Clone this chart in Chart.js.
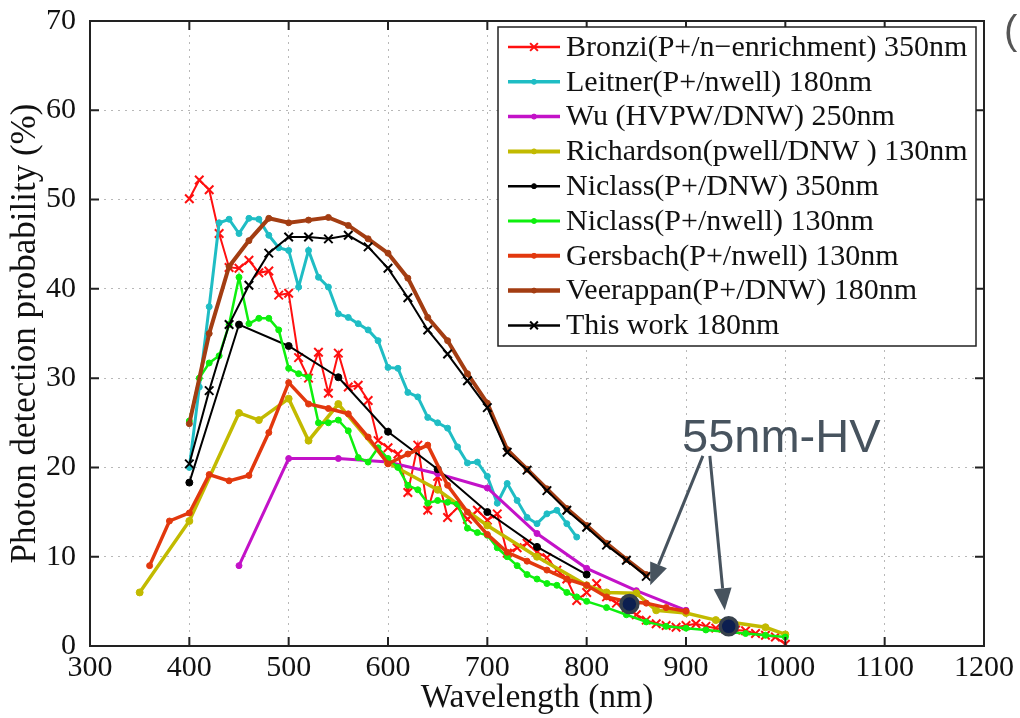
<!DOCTYPE html>
<html>
<head>
<meta charset="utf-8">
<script src="https://cdn.jsdelivr.net/npm/chart.js@4.4.1/dist/chart.umd.min.js"></script>
<style>
  body { margin: 0; background: #fff; }
  #wrap { width: 1020px; height: 718px; }
</style>
</head>
<body>
<div id="wrap"><canvas id="pdpChart" width="1020" height="718"></canvas></div>
<script>
// wavelength (nm) / photon detection probability (%)
const bronziX = [400,410,420,430,440,450,460,470,480,490,500,510,520,530,540,550,560,570,580,590,600,610,620,630,640,650,660,670,680,690,700,710,720,730,740,750,760,770,780,790,800,810,820,830,840,850,860,870,880,890,900,910,920,930,940,950,960,970,980,990,1000];
const bronziY = [50.1,52.2,51.1,46.2,42.4,42.3,43.2,41.8,42.0,39.3,39.5,32.3,30.0,32.9,28.3,32.8,29.0,29.2,27.5,23.0,22.2,21.5,17.2,22.5,15.2,19.0,14.4,15.5,14.2,15.2,14.1,14.8,10.4,11.0,11.5,10.5,9.9,8.5,7.5,5.1,6.0,7.0,5.5,4.8,4.3,3.5,2.9,2.5,2.3,2.1,2.3,2.5,2.2,2.0,1.9,1.8,1.7,1.4,1.2,1.0,0.2];

const leitnerX = [400,410,420,430,440,450,460,470,480,490,500,510,520,530,540,550,560,570,580,590,600,610,620,630,640,650,660,670,680,690,700,710,720,730,740,750,760,770,780,790];
const leitnerY = [20.0,29.0,38.0,47.4,47.8,46.2,47.9,47.8,46.0,44.6,44.3,40.2,44.3,41.3,40.2,37.2,36.8,36.1,35.4,34.2,31.2,31.1,28.4,27.9,25.6,25.0,24.4,22.3,20.5,20.6,19.0,16.0,18.2,16.3,14.4,13.7,14.8,15.2,13.7,12.2];

const wuX = [450,500,550,600,650,700,750,800,850,900];
const wuY = [9.0,21.0,21.0,20.6,19.3,17.7,12.6,8.7,6.2,4.0];

const richardsonX = [350,400,450,470,500,520,550,600,650,700,750,800,820,850,870,900,930,980,1000];
const richardsonY = [6.0,14.0,26.1,25.3,27.7,23.0,27.1,20.5,17.5,13.5,10.0,6.8,6.0,5.9,4.0,3.7,2.9,2.1,1.3];

const niclassDnwX = [400,450,500,550,600,650,700,750,800];
const niclassDnwY = [18.3,36.0,33.6,30.1,24.0,19.8,15.0,11.1,8.0];

const niclassNwellX = [400,410,420,430,440,450,460,470,480,490,500,510,520,530,540,550,560,570,580,590,600,610,620,630,640,650,660,670,680,690,700,710,720,730,740,750,760,770,780,790,800,820,840,860,880,900,920,940,960,980,1000];
const niclassNwellY = [25.2,30.0,31.7,32.5,36.0,41.3,36.1,36.7,36.7,35.4,31.1,30.5,30.1,25.0,25.0,25.3,24.1,21.1,20.6,22.2,21.0,20.0,18.0,17.5,16.0,16.3,16.1,15.9,13.2,12.7,12.4,11.0,10.0,9.0,8.0,7.5,7.0,6.8,6.0,5.5,5.0,4.3,3.5,2.7,2.2,2.0,1.8,1.6,1.4,1.2,1.0];

const gersbachX = [360,380,400,420,440,460,480,500,520,540,560,580,600,620,640,660,680,700,720,740,760,780,800,820,840,860,880,900];
const gersbachY = [9.0,14.0,14.9,19.2,18.5,19.1,23.9,29.5,27.1,26.6,26.0,23.4,20.4,21.5,22.5,18.0,15.0,12.5,10.5,9.5,8.5,7.5,6.8,5.5,5.0,4.8,4.3,3.9];

const veerappanX = [400,420,440,460,480,500,520,540,560,580,600,620,640,660,680,700,720,740,760,780,800,820,840,860];
const veerappanY = [24.9,35.0,42.5,45.4,47.9,47.4,47.7,48.0,47.1,45.6,44.0,41.2,36.8,34.2,30.5,27.2,22.0,19.8,17.6,15.4,13.5,11.5,9.7,8.0];

const thisWorkX = [400,420,440,460,480,500,520,540,560,580,600,620,640,660,680,700,720,740,760,780,800,820,840,860];
const thisWorkY = [20.4,28.6,36.0,40.4,44.0,45.8,45.8,45.6,46.0,44.7,42.3,39.0,35.4,32.7,29.7,26.7,21.7,19.7,17.4,15.2,13.3,11.3,9.6,7.8];

const hvX = [843, 943];
const hvY = [4.7, 2.2];

const serif = '"Liberation Serif", "Times New Roman", serif';

function pts(xs, ys){
    return xs.map(function(x, i){ return {x: x, y: ys[i]}; });
}

function series(label, xs, ys, color, width, style, radius, order){
    return {
        label: label,
        data: pts(xs, ys),
        showLine: true,
        borderColor: color,
        backgroundColor: color,
        borderWidth: width,
        pointStyle: style,
        pointRadius: radius,
        pointBorderWidth: style === 'crossRot' ? 2 : 1,
        pointBorderColor: color,
        pointBackgroundColor: color,
        tension: 0,
        order: order
    };
}

const datasets = [
    series('Bronzi(P+/n\u2212enrichment) 350nm', bronziX, bronziY, '#ff1010', 2, 'crossRot', 6, 8),
    series('Leitner(P+/nwell) 180nm', leitnerX, leitnerY, '#1fbdc4', 3, 'circle', 3, 7),
    series('Wu (HVPW/DNW) 250nm', wuX, wuY, '#c312c8', 3, 'circle', 3, 6),
    series('Richardson(pwell/DNW ) 130nm', richardsonX, richardsonY, '#c2ba00', 3.5, 'circle', 3.5, 5),
    series('Niclass(P+/DNW) 350nm', niclassDnwX, niclassDnwY, '#000000', 2, 'circle', 3.5, 4),
    series('Niclass(P+/nwell) 130nm', niclassNwellX, niclassNwellY, '#0ef00e', 2.5, 'circle', 3, 3),
    series('Gersbach(P+/nwell) 130nm', gersbachX, gersbachY, '#e2380e', 3.5, 'circle', 3, 2),
    series('Veerappan(P+/DNW) 180nm', veerappanX, veerappanY, '#a33d12', 4, 'circle', 3, 1),
    series('This work 180nm', thisWorkX, thisWorkY, '#000000', 2, 'crossRot', 6, 0),
    {
        label: '55nm-HV',
        data: pts(hvX, hvY),
        showLine: false,
        pointRadius: 8.5,
        pointBorderWidth: 3.5,
        pointBackgroundColor: '#0c1f50',
        pointBorderColor: '#37414c',
        order: -1
    }
];

// box with inward ticks on all four sides
const framePlugin = {
    id: 'frame',
    afterDraw(chart){
        const ctx = chart.ctx;
        const a = chart.chartArea;
        const xs = chart.scales.x, ys = chart.scales.y;
        ctx.save();
        ctx.strokeStyle = '#222';
        ctx.lineWidth = 2;
        ctx.beginPath();
        xs.ticks.forEach(function(t){
            const px = xs.getPixelForValue(t.value);
            ctx.moveTo(px, a.bottom); ctx.lineTo(px, a.bottom - 9);
            ctx.moveTo(px, a.top); ctx.lineTo(px, a.top + 9);
        });
        ys.ticks.forEach(function(t){
            const py = ys.getPixelForValue(t.value);
            ctx.moveTo(a.left, py); ctx.lineTo(a.left + 9, py);
            ctx.moveTo(a.right, py); ctx.lineTo(a.right - 9, py);
        });
        ctx.stroke();
        ctx.strokeRect(a.left, a.top, a.right - a.left, a.bottom - a.top);
        ctx.restore();
    }
};

function arrow(ctx, x1, y1, x2, y2){
    const ang = Math.atan2(y2 - y1, x2 - x1);
    const hl = 22, hw = 9;
    const bx = x2 - hl * Math.cos(ang), by = y2 - hl * Math.sin(ang);
    ctx.beginPath();
    ctx.moveTo(x1, y1);
    ctx.lineTo(bx, by);
    ctx.stroke();
    ctx.beginPath();
    ctx.moveTo(x2, y2);
    ctx.lineTo(bx + hw * Math.sin(ang), by - hw * Math.cos(ang));
    ctx.lineTo(bx - hw * Math.sin(ang), by + hw * Math.cos(ang));
    ctx.closePath();
    ctx.fill();
}

const notePlugin = {
    id: 'note',
    afterDraw(chart){
        const ctx = chart.ctx;
        const xs = chart.scales.x, ys = chart.scales.y;
        ctx.save();
        ctx.fillStyle = '#47535e';
        ctx.strokeStyle = '#47535e';
        ctx.lineWidth = 3;
        ctx.font = '47px "Liberation Sans", Arial, sans-serif';
        ctx.textBaseline = 'alphabetic';
        ctx.fillText('55nm-HV', xs.getPixelForValue(896), ys.getPixelForValue(21.7));
        arrow(ctx, xs.getPixelForValue(917), ys.getPixelForValue(21.3), xs.getPixelForValue(864), ys.getPixelForValue(6.8));
        arrow(ctx, xs.getPixelForValue(924), ys.getPixelForValue(21.3), xs.getPixelForValue(939), ys.getPixelForValue(4.0));
        // cut-off glyph at the top right edge of the figure
        ctx.fillStyle = '#555';
        ctx.font = '40px "Liberation Sans", Arial, sans-serif';
        ctx.fillText('(', 1004, 44);
        ctx.restore();
    }
};

const legendPlugin = {
    id: 'boxLegend',
    afterDraw(chart){
        const ctx = chart.ctx;
        const bx = 498, by = 27, bw = 478, bh = 319, row = 34.8;
        ctx.save();
        ctx.fillStyle = '#fff';
        ctx.fillRect(bx, by, bw, bh);
        ctx.strokeStyle = '#222';
        ctx.lineWidth = 1.5;
        ctx.strokeRect(bx, by, bw, bh);
        ctx.font = '30px ' + serif;
        ctx.textBaseline = 'middle';
        chart.data.datasets.slice(0, 9).forEach(function(ds, i){
            const yy = by + 20 + i * row;
            ctx.strokeStyle = ds.borderColor;
            ctx.fillStyle = ds.borderColor;
            ctx.lineWidth = ds.borderWidth + 0.5;
            ctx.beginPath();
            ctx.moveTo(bx + 10, yy);
            ctx.lineTo(bx + 62, yy);
            ctx.stroke();
            ctx.lineWidth = ds.pointBorderWidth;
            Chart.helpers.drawPoint(ctx, {pointStyle: ds.pointStyle, radius: ds.pointStyle === 'crossRot' ? 5.5 : 2.5, borderWidth: ds.pointBorderWidth, rotation: 0}, bx + 36, yy);
            ctx.fillStyle = '#111';
            ctx.fillText(ds.label, bx + 68, yy + 1);
        });
        ctx.restore();
    }
};

const pdpConfig = {
    type: 'scatter',
    data: { datasets: datasets },
    options: {
        responsive: false,
        animation: false,
        devicePixelRatio: 1,
        layout: { padding: { top: 21, right: 36, bottom: 0, left: 0 } },
        plugins: {
            legend: { display: false },
            tooltip: { enabled: false }
        },
        scales: {
            x: {
                type: 'linear',
                min: 300,
                max: 1200,
                ticks: { stepSize: 100, color: '#111', font: { family: serif, size: 30 }, padding: 4, callback: function(v){ return String(v); } },
                grid: { color: '#b8b8b8', lineWidth: 1, drawTicks: false },
                border: { display: false, dash: [2, 5] },
                title: { display: true, text: 'Wavelength (nm)', color: '#111', font: { family: serif, size: 33.5 }, padding: 0 },
                afterFit(scale){ scale.height = 72; scale.paddingLeft = 0; scale.paddingRight = 0; }
            },
            y: {
                min: 0,
                max: 70,
                ticks: { stepSize: 10, color: '#111', font: { family: serif, size: 30 }, padding: 14 },
                grid: { color: '#b8b8b8', lineWidth: 1, drawTicks: false },
                border: { display: false, dash: [2, 5] },
                title: { display: true, text: 'Photon detection probability (%)', color: '#111', font: { family: serif, size: 35 }, padding: { top: 5, bottom: 0 } },
                afterFit(scale){ scale.width = 90; scale.paddingTop = 0; scale.paddingBottom = 0; }
            }
        }
    },
    plugins: [framePlugin, notePlugin, legendPlugin]
};

const pdpCanvas = document.getElementById('pdpChart').getContext('2d');
const pdpChart = new Chart(pdpCanvas, pdpConfig);
</script>
</body>
</html>
